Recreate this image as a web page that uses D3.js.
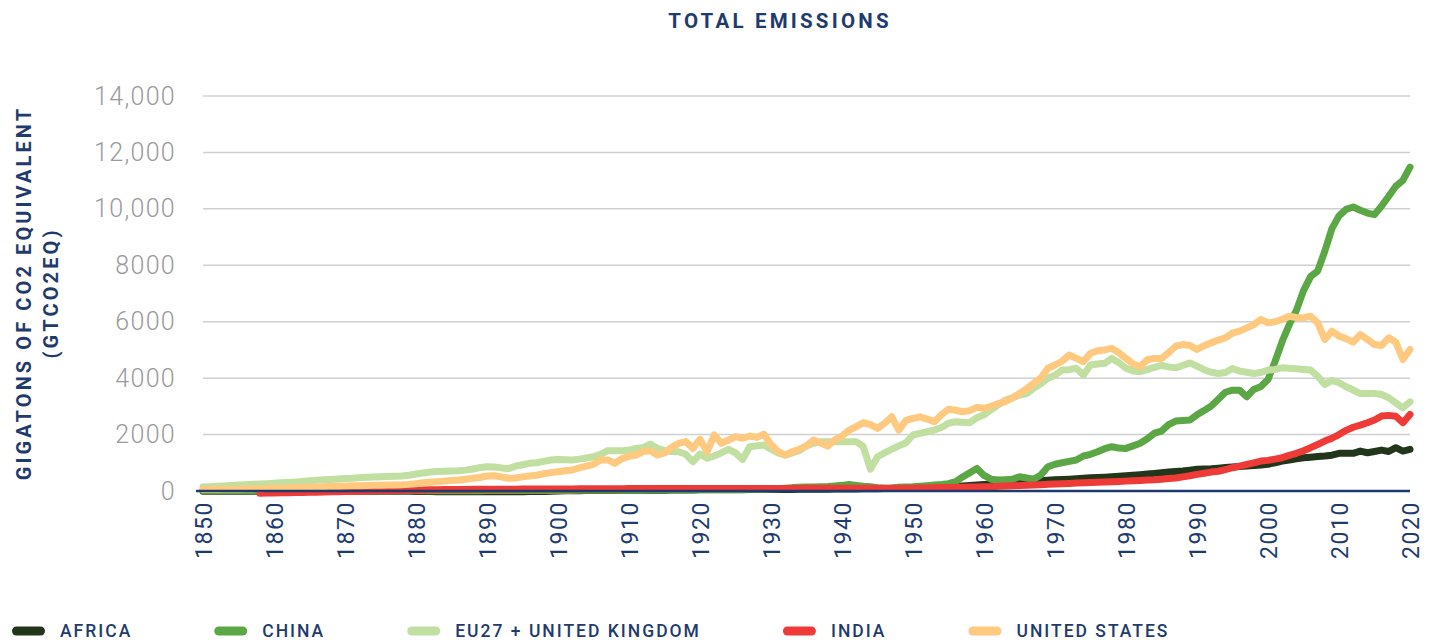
<!DOCTYPE html>
<html>
<head>
<meta charset="utf-8">
<script src="https://cdn.jsdelivr.net/npm/d3@7"></script>
<style>
  body { margin: 0; background: #fff; }
  svg { display: block; font-family: Roboto, "Noto Sans", sans-serif; }
</style>
</head>
<body>
<svg id="chart" width="1434" height="644"></svg>
<script>
// Annual emissions, 1850–2020
const years = d3.range(1850, 2021);

const africa = [
  -10,-10,-10,-10,-10,-10,-10,-10,-10,-10,
  -10,-10,-10,-10,-10,-10,-10,-10,-10,-10,
  -10,-10,-10,-10,-10,-10,-10,-10,-10,-10,
  -15,-20,-20,-25,-30,-30,-30,-30,-30,-30,
  -30,-30,-30,-30,-30,-25,-20,-20,-15,-10,
  0,5,10,10,15,15,20,20,20,25,
  25,25,30,30,30,30,35,35,35,35,
  40,40,40,40,45,45,45,50,50,50,
  50,50,55,55,60,60,60,65,65,70,
  70,75,75,80,80,80,85,90,95,100,
  110,120,130,140,150,160,170,180,195,210,
  230,240,255,270,285,300,320,340,360,380,
  400,410,420,435,450,470,480,490,505,520,
  540,560,580,600,625,650,670,690,710,740,
  770,780,790,810,830,850,870,885,900,925,
  950,1000,1060,1100,1140,1180,1200,1220,1240,1270,
  1335,1335,1335,1415,1355,1400,1450,1400,1535,1415,1475
];

const china = [
  10,10,10,10,10,10,10,10,10,10,
  10,10,10,10,10,10,10,10,10,10,
  10,10,10,10,10,10,10,10,10,10,
  10,10,10,10,10,10,10,10,10,10,
  15,15,15,15,15,15,15,15,15,15,
  20,20,20,25,25,25,30,30,30,30,
  35,35,35,40,40,40,40,45,45,45,
  50,50,50,50,55,55,55,60,60,60,
  70,80,100,120,130,140,140,150,160,180,
  200,230,200,170,150,120,100,110,130,140,
  150,170,190,210,230,260,330,500,650,800,
  550,420,390,400,415,505,460,415,565,860,
  950,1000,1050,1100,1240,1300,1390,1500,1570,1520,
  1510,1600,1690,1850,2050,2125,2350,2480,2500,2515,
  2700,2850,3010,3250,3500,3575,3575,3340,3600,3700,
  3950,4600,5300,5900,6400,7100,7600,7800,8500,9300,
  9750,9980,10065,9950,9850,9795,10100,10445,10800,11010,11480
];

const eu27uk = [
  140,150,165,180,195,210,225,235,245,260,
  275,290,300,315,340,360,380,395,410,425,
  440,450,470,490,500,505,515,525,530,560,
  600,640,670,690,700,710,720,740,780,830,
  860,850,820,790,880,930,980,1000,1050,1100,
  1120,1110,1100,1130,1170,1215,1300,1430,1430,1430,
  1440,1510,1540,1665,1510,1430,1400,1390,1300,1040,
  1310,1160,1240,1350,1480,1350,1120,1570,1600,1630,
  1480,1350,1275,1350,1430,1600,1690,1750,1750,1750,
  1750,1750,1750,1570,770,1215,1350,1480,1600,1710,
  1985,2045,2100,2160,2250,2400,2455,2440,2420,2600,
  2700,2880,3050,3225,3300,3400,3450,3640,3800,3995,
  4100,4290,4300,4350,4110,4465,4500,4525,4700,4550,
  4350,4250,4230,4300,4385,4450,4400,4365,4450,4540,
  4425,4300,4210,4165,4200,4340,4250,4210,4165,4200,
  4285,4310,4365,4350,4330,4310,4285,4070,3775,3920,
  3835,3695,3580,3455,3455,3455,3420,3305,3125,2950,3160
];

const india = [
  null,null,null,null,null,null,null,null,-80,-75,
  -70,-65,-60,-55,-50,-45,-40,-35,-30,-25,
  -20,-15,-10,-5,0,5,10,15,20,25,
  30,35,40,45,50,50,55,55,60,60,
  60,60,65,65,65,70,70,70,70,75,
  75,75,75,80,80,80,80,80,80,80,
  85,85,85,85,85,85,85,85,85,85,
  85,85,90,90,90,90,90,90,90,90,
  90,90,90,90,90,95,95,95,95,95,
  95,95,95,95,95,95,100,100,100,100,
  100,105,110,115,120,125,130,135,140,145,
  150,155,165,175,185,195,205,215,225,240,
  250,260,270,280,290,300,310,320,330,340,
  350,360,375,390,400,420,440,460,500,540,
  590,630,670,700,760,825,880,940,1000,1060,
  1085,1130,1180,1260,1335,1430,1535,1650,1770,1870,
  2000,2150,2260,2335,2420,2515,2655,2680,2650,2420,2715
];

const unitedStates = [
  50,52,55,58,62,66,70,75,80,85,
  95,100,105,115,125,135,145,155,165,172,
  178,185,190,195,200,205,210,215,220,235,
  260,290,310,330,350,370,390,420,450,480,
  530,540,500,450,460,500,530,560,610,650,
  685,720,745,820,880,945,1100,1100,980,1150,
  1230,1275,1400,1430,1275,1350,1550,1690,1750,1510,
  1830,1390,1985,1690,1800,1925,1870,1950,1900,2010,
  1650,1400,1275,1390,1480,1600,1810,1700,1595,1810,
  1950,2150,2280,2420,2350,2220,2400,2630,2160,2500,
  2575,2630,2550,2455,2700,2895,2860,2810,2850,2965,
  2930,3000,3100,3165,3300,3460,3620,3815,4000,4350,
  4465,4600,4820,4700,4580,4880,4970,5000,5055,4900,
  4700,4500,4405,4650,4700,4700,4900,5130,5190,5160,
  5015,5150,5250,5350,5430,5600,5665,5780,5900,6080,
  5960,6000,6080,6195,6150,6135,6195,5960,5370,5665,
  5490,5400,5275,5545,5370,5190,5160,5430,5275,4660,5015
];

const seriesNames  = ["AFRICA", "CHINA", "EU27 + UNITED KINGDOM", "INDIA", "UNITED STATES"];
const seriesValues = [africa, china, eu27uk, india, unitedStates];
const seriesColors = ["#22361b", "#5ca745", "#c0dfa0", "#ee3b37", "#ffc97f"];

const yTickValues = [0, 2000, 4000, 6000, 8000, 10000, 12000, 14000];
const yTickLabels = ["0", "2000", "4000", "6000", "8000", "10,000", "12,000", "14,000"];
const xTickValues = d3.range(1850, 2021, 10);

const chartTitle = "TOTAL EMISSIONS";
const yTitleLines = ["GIGATONS OF CO2 EQUIVALENT", "(GTCO2EQ)"];

const navy = "#1f3b6e";
const svg = d3.select("#chart");

const plot = { left: 203, right: 1410, top: 96, bottom: 491 };

const x = d3.scaleLinear().domain([1850, 2020]).range([plot.left, plot.right]);
const y = d3.scaleLinear().domain([0, 14000]).range([plot.bottom, plot.top]);

// Title
svg.append("text")
  .attr("x", 780).attr("y", 28)
  .attr("text-anchor", "middle")
  .attr("fill", navy)
  .attr("font-size", 20.5).attr("font-weight", 700)
  .attr("letter-spacing", "3.2px")
  .text(chartTitle);

// Horizontal gridlines
svg.append("g")
  .selectAll("line")
  .data(yTickValues.filter(d => d > 0))
  .join("line")
  .attr("x1", plot.left).attr("x2", plot.right)
  .attr("y1", d => y(d)).attr("y2", d => y(d))
  .attr("stroke", "#d0d0d0").attr("stroke-width", 1.5);

// Y axis labels
const yAxis = svg.append("g")
  .attr("transform", `translate(${plot.left},0)`)
  .call(d3.axisLeft(y).tickValues(yTickValues)
    .tickFormat((d, i) => yTickLabels[i]).tickSize(0).tickPadding(27));
yAxis.select(".domain").remove();
yAxis.selectAll("text")
  .attr("font-family", "Roboto, sans-serif")
  .attr("font-size", 25).attr("font-weight", 300)
  .attr("letter-spacing", "1.3px")
  .attr("fill", "#9a9a9a");

// Y axis title (two rotated lines)
const yTitle = svg.append("g");
yTitle.selectAll("text")
  .data(yTitleLines)
  .join("text")
  .attr("transform", (d, i) => `translate(${i === 0 ? 31 : 58},293) rotate(-90)`)
  .attr("text-anchor", "middle")
  .attr("fill", navy)
  .attr("font-size", 20).attr("font-weight", 700)
  .attr("letter-spacing", "3.1px")
  .text(d => d);

// X axis labels, rotated
const xAxis = svg.append("g")
  .attr("transform", `translate(0,${plot.bottom})`)
  .call(d3.axisBottom(x).tickValues(xTickValues).tickFormat(d3.format("d")).tickSize(0));
xAxis.select(".domain").remove();
xAxis.selectAll("text")
  .attr("font-family", "Roboto, sans-serif")
  .attr("font-size", 23).attr("font-weight", 400)
  .attr("letter-spacing", "1.6px")
  .attr("fill", navy)
  .attr("transform", "rotate(-90)")
  .attr("text-anchor", "end")
  .attr("x", -10).attr("y", 0).attr("dy", "0.35em");

// Series lines
const line = d3.line()
  .defined(d => d.v != null)
  .x(d => x(d.year))
  .y(d => y(d.v));

svg.append("g")
  .selectAll("path")
  .data(seriesValues.map((vals, i) => ({
    color: seriesColors[i],
    points: years.map((yr, j) => ({ year: yr, v: vals[j] }))
  })))
  .join("path")
  .attr("d", d => line(d.points))
  .attr("fill", "none")
  .attr("stroke", d => d.color)
  .attr("stroke-width", 7)
  .attr("stroke-linejoin", "round")
  .attr("stroke-linecap", "round");

// Zero baseline
svg.append("line")
  .attr("x1", 196).attr("x2", plot.right)
  .attr("y1", y(0)).attr("y2", y(0))
  .attr("stroke", navy).attr("stroke-width", 2.5);

// Legend
const legend = svg.append("g").attr("transform", "translate(0,631)");
let cursor = 12;
seriesNames.forEach((name, i) => {
  const item = legend.append("g").attr("transform", `translate(${cursor},0)`);
  item.append("rect")
    .attr("x", 0).attr("y", -4.5)
    .attr("width", 33).attr("height", 9).attr("rx", 4.5)
    .attr("fill", seriesColors[i]);
  const label = item.append("text")
    .attr("x", 48).attr("dy", "0.36em")
    .attr("fill", navy)
    .attr("font-size", 17.5).attr("font-weight", 500)
    .attr("letter-spacing", "2.0px")
    .text(name);
  cursor += 48 + label.node().getComputedTextLength() + 82;
});
</script>
</body>
</html>
